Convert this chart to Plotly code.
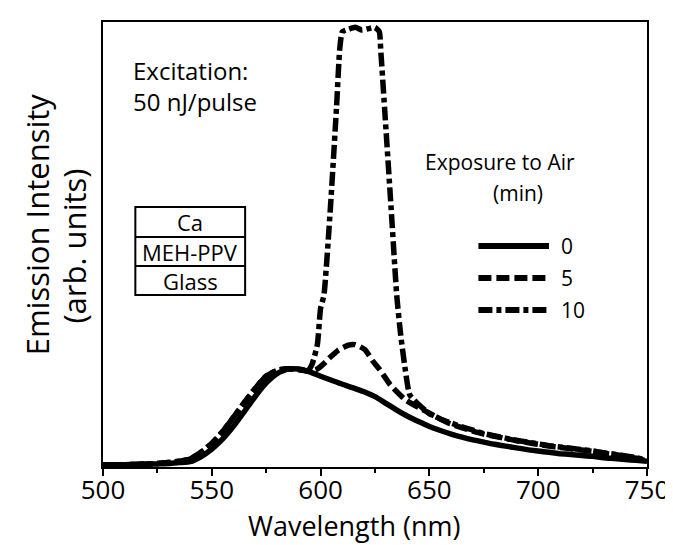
import plotly.graph_objects as go

FONT = "Open Sans"

# Wavelength grid (nm)
wl_0 = [500, 510, 520, 525, 530, 535, 540, 545, 550, 555, 560, 565, 570, 575, 580, 585,
        590, 595, 600, 605, 610, 615, 620, 625, 630, 635, 640, 645, 650, 655, 660, 665,
        670, 675, 680, 685, 690, 695, 700, 705, 710, 715, 720, 725, 730, 735, 740, 745, 750]
int_0 = [0.5, 0.5, 0.6, 0.7, 0.8, 1.0, 1.2, 2.3, 4.0, 6.3, 9.2, 12.5, 15.9, 18.9, 21.0, 22.0,
         22.0, 21.4, 20.4, 19.5, 18.6, 17.8, 16.9, 15.8, 14.3, 12.8, 11.4, 10.2, 9.1, 8.2, 7.4, 6.7,
         6.1, 5.6, 5.1, 4.7, 4.3, 3.9, 3.6, 3.3, 3.0, 2.8, 2.6, 2.4, 2.1, 1.9, 1.7, 1.5, 1.3]

wl_5 = [500, 510, 520, 525, 530, 535, 540, 545, 550, 555, 560, 565, 570, 575, 580, 585,
        590, 595, 598, 601, 604.5, 608, 612.8, 615.8, 620.3, 624, 627, 632, 639, 648, 658.7, 667.7,
        675, 680, 685, 690, 695, 700, 705, 710, 715, 720, 725, 730, 735, 740, 745, 750]
int_5 = [0.5, 0.5, 0.7, 0.8, 1.0, 1.3, 1.8, 3.3, 5.3, 8.0, 11.2, 14.5, 17.7, 20.4, 21.7, 22.1,
         21.9, 21.5, 21.9, 23.0, 24.7, 26.2, 27.4, 27.5, 26.4, 23.8, 22.0, 18.5, 15.1, 12.6, 9.9, 8.4,
         7.4, 6.9, 6.4, 5.9, 5.5, 5.1, 4.7, 4.4, 4.1, 3.8, 3.5, 3.1, 2.8, 2.4, 2.0, 1.4]

wl_10 = [500, 510, 520, 525, 530, 535, 540, 545, 550, 555, 560, 565, 570, 575, 580, 585,
         590, 594, 596, 598.5, 600, 601.5, 604.5, 607.3, 608.8, 610, 613, 616, 619, 622, 625, 627,
         627.6, 629.4, 632.4, 635, 636.8, 639, 641, 646.7, 650, 655, 660, 665, 670, 675, 680, 685,
         690, 695, 700, 705, 710, 715, 720, 725, 730, 735, 740, 745, 750]
int_10 = [0.5, 0.5, 0.7, 0.8, 1.0, 1.3, 1.8, 3.3, 5.3, 8.0, 11.2, 14.5, 17.7, 20.4, 21.7, 22.1,
          21.9, 21.6, 23.0, 27.5, 35.7, 38.5, 58.2, 80.7, 94.0, 97.8, 98.4, 98.8, 98.2, 98.5, 98.8, 97.8,
          94.0, 80.7, 58.2, 38.5, 29.7, 21.6, 16.2, 13.3, 12.0, 10.8, 9.9, 9.0, 8.3, 7.5, 7.0, 6.5,
          6.0, 5.6, 5.2, 4.8, 4.5, 4.2, 3.9, 3.6, 3.2, 2.9, 2.5, 2.1, 1.5]

series_names = ["0", "5", "10"]
x_ticks = [500, 550, 600, 650, 700, 750]

dash_styles = ["solid", "13px,5px", "14px,4px,5px,4px"]
LW = 5.5

fig = go.Figure()
for wl, it, nm, ds in [(wl_0, int_0, series_names[0], dash_styles[0]),
                       (wl_5, int_5, series_names[1], dash_styles[1]),
                       (wl_10, int_10, series_names[2], dash_styles[2])]:
    fig.add_trace(go.Scatter(x=wl, y=it, mode="lines", name=nm, showlegend=False,
                             line=dict(color="black", width=LW, dash=ds, shape="spline", smoothing=0.5)))

L, R, T, B = 95, 650, 14, 459
W, H = 673, 545

def px(x):
    return (x - L) / (R - L)

def py(y):
    return (B - y) / (B - T)

shapes = []
annotations = []

# Legend (drawn)
leg_rows = [238, 270, 302]
for i, (nm, ds) in enumerate(zip(series_names, dash_styles)):
    shapes.append(dict(type="line", xref="paper", yref="paper",
                       x0=px(478), x1=px(550), y0=py(leg_rows[i]), y1=py(leg_rows[i]),
                       line=dict(color="black", width=6, dash=ds)))
    annotations.append(dict(text=nm, xref="paper", yref="paper", x=px(560), y=py(leg_rows[i]),
                            xanchor="left", yanchor="middle", showarrow=False,
                            font=dict(family=FONT, size=21, color="black")))
annotations.append(dict(text="Exposure to Air", xref="paper", yref="paper", x=px(500), y=py(154),
                        xanchor="center", yanchor="middle", showarrow=False,
                        font=dict(family=FONT, size=21, color="black")))
annotations.append(dict(text="(min)", xref="paper", yref="paper", x=px(518), y=py(185),
                        xanchor="center", yanchor="middle", showarrow=False,
                        font=dict(family=FONT, size=21, color="black")))

# Excitation text
annotations.append(dict(text="Excitation:<br>50 nJ/pulse", xref="paper", yref="paper",
                        x=px(124), y=py(78), align="left",
                        xanchor="left", yanchor="middle", showarrow=False,
                        font=dict(family=FONT, size=24, color="black")))

# Layer stack box
box_rows = [199, 229, 258, 287]
layer_names = ["Ca", "MEH-PPV", "Glass"]
shapes.append(dict(type="rect", xref="paper", yref="paper", x0=px(128), x1=px(240),
                   y0=py(box_rows[3]), y1=py(box_rows[0]), line=dict(color="black", width=2)))
for yy in box_rows[1:3]:
    shapes.append(dict(type="line", xref="paper", yref="paper", x0=px(128), x1=px(240),
                       y0=py(yy), y1=py(yy), line=dict(color="black", width=2)))
for i, nm in enumerate(layer_names):
    annotations.append(dict(text=nm, xref="paper", yref="paper", x=px(184),
                            y=py((box_rows[i] + box_rows[i + 1]) / 2),
                            xanchor="center", yanchor="middle", showarrow=False,
                            font=dict(family=FONT, size=22, color="black")))

# Axis titles
annotations.append(dict(text="Wavelength (nm)", xref="paper", yref="paper", x=px(351), y=py(517),
                        xanchor="center", yanchor="middle", showarrow=False,
                        font=dict(family=FONT, size=27, color="black")))
annotations.append(dict(text="Emission Intensity", xref="paper", yref="paper", x=px(28), y=py(216),
                        xanchor="center", yanchor="middle", showarrow=False, textangle=-90,
                        font=dict(family=FONT, size=31, color="black")))
annotations.append(dict(text="(arb. units)", xref="paper", yref="paper", x=px(65), y=py(238),
                        xanchor="center", yanchor="middle", showarrow=False, textangle=-90,
                        font=dict(family=FONT, size=31, color="black")))

fig.update_layout(
    width=W, height=H,
    margin=dict(l=L, r=W - R, t=T, b=H - B),
    paper_bgcolor="white", plot_bgcolor="white",
    showlegend=False,
    shapes=shapes, annotations=annotations,
    font=dict(family=FONT, color="black"),
)
fig.update_xaxes(range=[500, 750], tickvals=x_ticks, ticktext=[str(v) for v in x_ticks],
                 ticks="outside", ticklen=7, tickwidth=2, tickcolor="black",
                 ticklabeloverflow="allow", ticklabelstandoff=-8,
                 minor=dict(tickvals=[525, 575, 625, 675, 725], ticks="outside", ticklen=4,
                            tickwidth=2, tickcolor="black"),
                 showline=True, linecolor="black", linewidth=2, mirror=True,
                 showgrid=False, zeroline=False,
                 tickfont=dict(family=FONT, size=26, color="black"))
fig.update_yaxes(range=[0, 100], showticklabels=False, ticks="",
                 showline=True, linecolor="black", linewidth=2, mirror=True,
                 showgrid=False, zeroline=False)

fig.write_html("out.html")
